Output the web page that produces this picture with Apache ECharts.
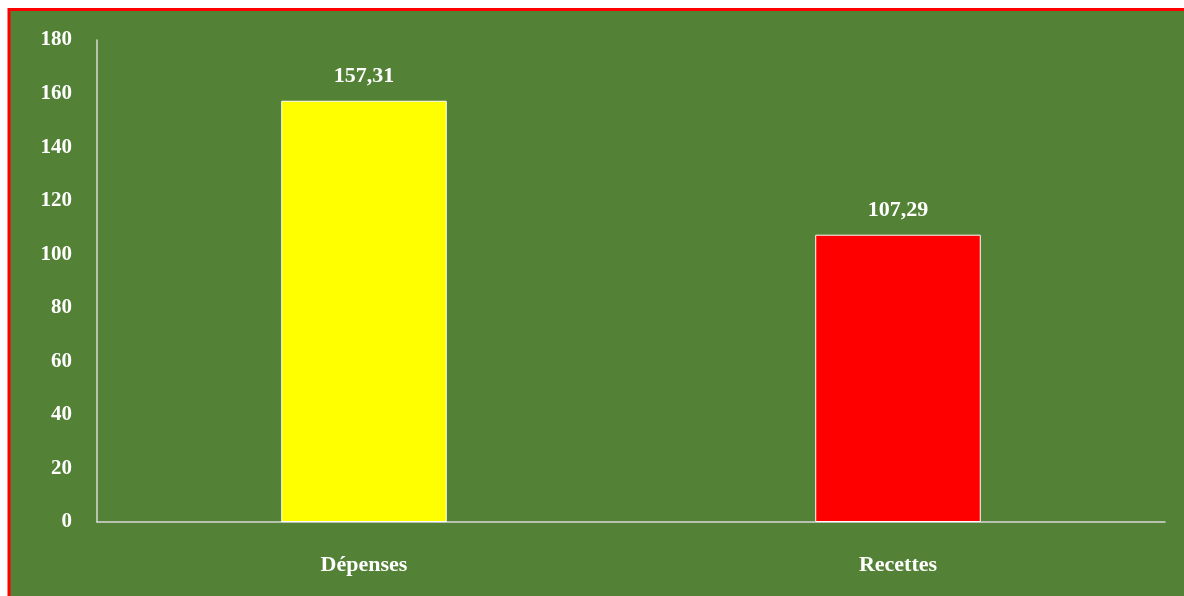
<!DOCTYPE html>
<html><head><meta charset="utf-8">
<script src="https://cdn.jsdelivr.net/npm/echarts@6/dist/echarts.min.js"></script>
<style>html,body{margin:0;padding:0;background:#fff}#c{width:1184px;height:596px}</style>
</head><body><div id="c"></div>
<script>
const titleText = "Figure 1 : Comparaison des dépenses et des recettes principales par principe";
const categories = ["Dépenses", "Recettes"];
const values = [157.31, 107.29];
const barColors = ["#FFFF00", "#FF0000"];
const yTicks = {min: 0, max: 180, interval: 20};

const chart = echarts.init(document.getElementById('c'), null, {renderer: 'canvas'});
const serif = '"Liberation Serif", "Times New Roman", serif';
chart.setOption({
  backgroundColor: '#ffffff',
  animation: false,
  graphic: [
    {type: 'rect', z: -10, shape: {x: 9, y: 9.5, width: 1190, height: 600},
     style: {fill: '#538135', stroke: '#FF0000', lineWidth: 3}},
    {type: 'text', z: -5, left: 8, top: -20,
     style: {text: titleText, font: 'bold 20px ' + serif, fill: '#000'}}
  ],
  grid: {left: 97, right: 19, top: 40, bottom: 74, containLabel: false},
  xAxis: {
    type: 'category', data: categories,
    axisLine: {lineStyle: {color: '#D9D9D9', width: 1.5}},
    axisTick: {show: false},
    axisLabel: {color: '#fff', fontFamily: serif, fontWeight: 'bold', fontSize: 22, margin: 32}
  },
  yAxis: {
    type: 'value', min: yTicks.min, max: yTicks.max, interval: yTicks.interval,
    axisLine: {show: true, lineStyle: {color: '#D9D9D9', width: 1.5}},
    axisTick: {show: false},
    splitLine: {show: false},
    axisLabel: {color: '#fff', fontFamily: serif, fontWeight: 'bold', fontSize: 21, margin: 25}
  },
  series: [{
    type: 'bar', barWidth: '31%',
    data: values.map((v, i) => ({value: v, itemStyle: {color: barColors[i], borderColor: '#fff', borderWidth: 1}})),
    label: {show: true, position: 'top', distance: 13, color: '#fff', fontFamily: serif, fontWeight: 'bold', fontSize: 22,
      formatter: p => p.value.toFixed(2).replace('.', ',')}
  }]
});
</script></body></html>
